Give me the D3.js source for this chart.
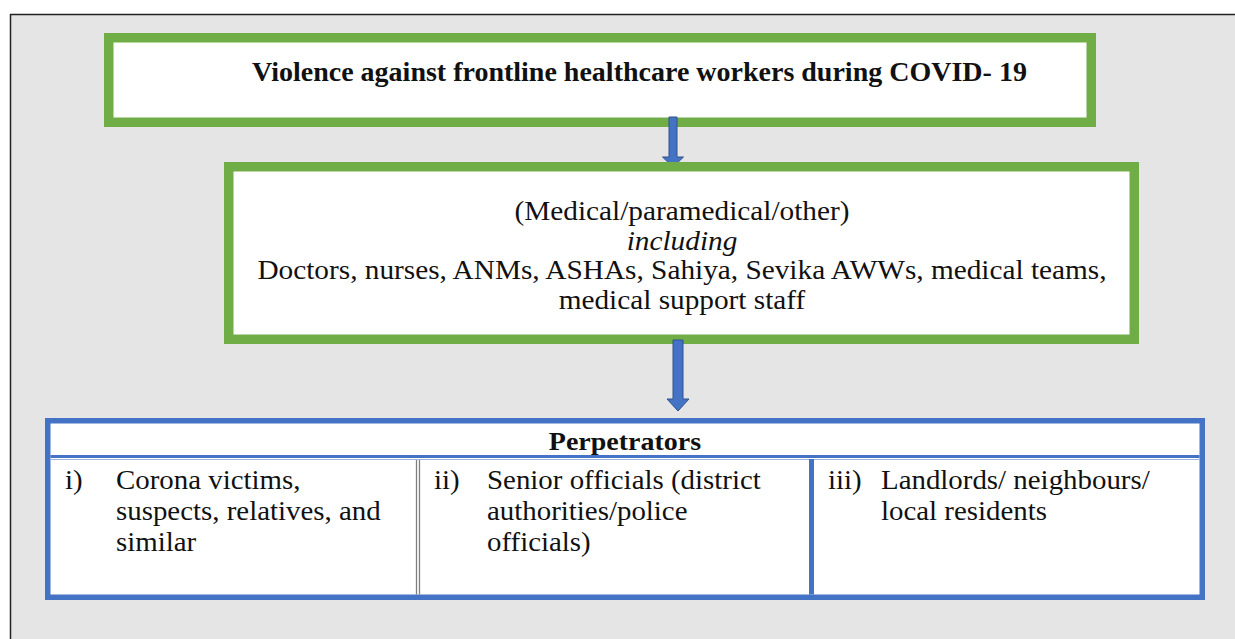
<!DOCTYPE html>
<html>
<head>
<meta charset="utf-8">
<script src="https://cdn.jsdelivr.net/npm/d3@7"></script>
<style>
  body { margin: 0; background: #fff; }
  svg { display: block; }
  svg text { font-family: "Liberation Serif", "DejaVu Serif", serif; }
</style>
</head>
<body>
<svg id="chart" width="1235" height="639"></svg>
<script>
const svg = d3.select("#chart")

// texts of the diagram
const titleText = "Violence against frontline healthcare workers during COVID- 19"
const workerLines = ["(Medical/paramedical/other)", "including",
  "Doctors, nurses, ANMs, ASHAs, Sahiya, Sevika AWWs, medical teams,",
  "medical support staff"]
const workerItalic = [false, true, false, false]
const perpHeader = "Perpetrators"
const perpNumerals = ["i)", "ii)", "iii)"]
const perpLines = [
  ["Corona victims,", "suspects, relatives, and", "similar"],
  ["Senior officials (district", "authorities/police", "officials)"],
  ["Landlords/ neighbours/", "local residents"]
]

const green = "#70ad47"
const blue = "#4472c4"
const bodySize = 27
const bodyStretch = 1.07

// page frame
svg.append("rect").attr("x", 10).attr("y", 14).attr("width", 1225).attr("height", 625)
  .attr("fill", "#e6e5e5")
svg.append("line").attr("x1", 10).attr("x2", 1235).attr("y1", 14.5).attr("y2", 14.5)
  .attr("stroke", "#222").attr("stroke-width", 1.5)
svg.append("line").attr("x1", 10.5).attr("x2", 10.5).attr("y1", 14).attr("y2", 639)
  .attr("stroke", "#222").attr("stroke-width", 1.5)

function addText(g, str, x, y, opts) {
  const o = Object.assign({size: bodySize, sx: bodyStretch, anchor: "start", weight: "normal", style: "normal"}, opts)
  return g.append("text")
    .attr("transform", `translate(${x},${y}) scale(${o.sx},1)`)
    .attr("text-anchor", o.anchor)
    .attr("font-size", o.size)
    .attr("font-weight", o.weight)
    .attr("font-style", o.style)
    .attr("fill", "#111")
    .text(str)
}

function greenBox(x0, y0, x1, y1) {
  const w = 9.5
  svg.append("rect")
    .attr("x", x0 + w / 2).attr("y", y0 + w / 2)
    .attr("width", x1 - x0 - w).attr("height", y1 - y0 - w)
    .attr("fill", "#fff").attr("stroke", green).attr("stroke-width", w)
}

function arrow(cx, yTop, yTip, shaftW, headW, headH) {
  const p = d3.path()
  p.moveTo(cx - shaftW / 2, yTop)
  p.lineTo(cx + shaftW / 2, yTop)
  p.lineTo(cx + shaftW / 2, yTip - headH)
  p.lineTo(cx + headW / 2, yTip - headH)
  p.lineTo(cx, yTip)
  p.lineTo(cx - headW / 2, yTip - headH)
  p.lineTo(cx - shaftW / 2, yTip - headH)
  p.closePath()
  svg.append("path").attr("d", p.toString())
    .attr("fill", blue).attr("stroke", "#2f528f").attr("stroke-width", 1)
}

// top box
greenBox(104, 33, 1096, 127)
addText(svg, titleText, 252, 81, {weight: "bold", size: 28, sx: 1.0})

// arrow 1
arrow(673, 117, 167, 8, 21, 10)

// workers box
greenBox(224, 162, 1139, 344)
const lineY = d3.scaleLinear().domain([0, workerLines.length - 1]).range([220, 309])
workerLines.forEach((t, i) => {
  addText(svg, t, 682, lineY(i), {anchor: "middle", sx: 1.085, style: workerItalic[i] ? "italic" : "normal"})
})

// arrow 2
arrow(678, 340, 411, 10, 22, 12)

// perpetrators table
const tbl = {x0: 45, y0: 418, x1: 1205, y1: 600, headY: 456.5}
const bw = 5.5
svg.append("rect")
  .attr("x", tbl.x0 + bw / 2).attr("y", tbl.y0 + bw / 2)
  .attr("width", tbl.x1 - tbl.x0 - bw).attr("height", tbl.y1 - tbl.y0 - bw)
  .attr("fill", "#fff").attr("stroke", blue).attr("stroke-width", bw)
svg.append("line").attr("x1", tbl.x0 + bw).attr("x2", tbl.x1 - bw)
  .attr("y1", tbl.headY).attr("y2", tbl.headY).attr("stroke", blue).attr("stroke-width", 3)
svg.append("line").attr("x1", tbl.x0 + bw).attr("x2", tbl.x1 - bw)
  .attr("y1", tbl.headY + 3).attr("y2", tbl.headY + 3).attr("stroke", "#9db4de").attr("stroke-width", 1)

addText(svg, perpHeader, 625, 450, {anchor: "middle", weight: "bold", size: 25, sx: 1.12})

// column edges
const colEdges = [tbl.x0 + bw, 418, 811.5, tbl.x1 - bw]
// divider i / ii : grey double rule
const cellTop = tbl.headY + 3.5, cellBot = tbl.y1 - bw
;[-1.5, 1.5].forEach(dx => {
  svg.append("line").attr("x1", colEdges[1] + dx).attr("x2", colEdges[1] + dx)
    .attr("y1", cellTop).attr("y2", cellBot).attr("stroke", "#7f7f7f").attr("stroke-width", 1.3)
})
// divider ii / iii : blue rule
svg.append("line").attr("x1", colEdges[2]).attr("x2", colEdges[2])
  .attr("y1", cellTop - 1).attr("y2", cellBot).attr("stroke", blue).attr("stroke-width", 5)

const numX = [65, 434, 828]
const txtX = [116, 487, 881]
const rowY = d3.scaleLinear().domain([0, 2]).range([489, 551])
perpNumerals.forEach((n, c) => {
  addText(svg, n, numX[c], rowY(0))
  perpLines[c].forEach((t, i) => addText(svg, t, txtX[c], rowY(i)))
})
</script>
</body>
</html>
